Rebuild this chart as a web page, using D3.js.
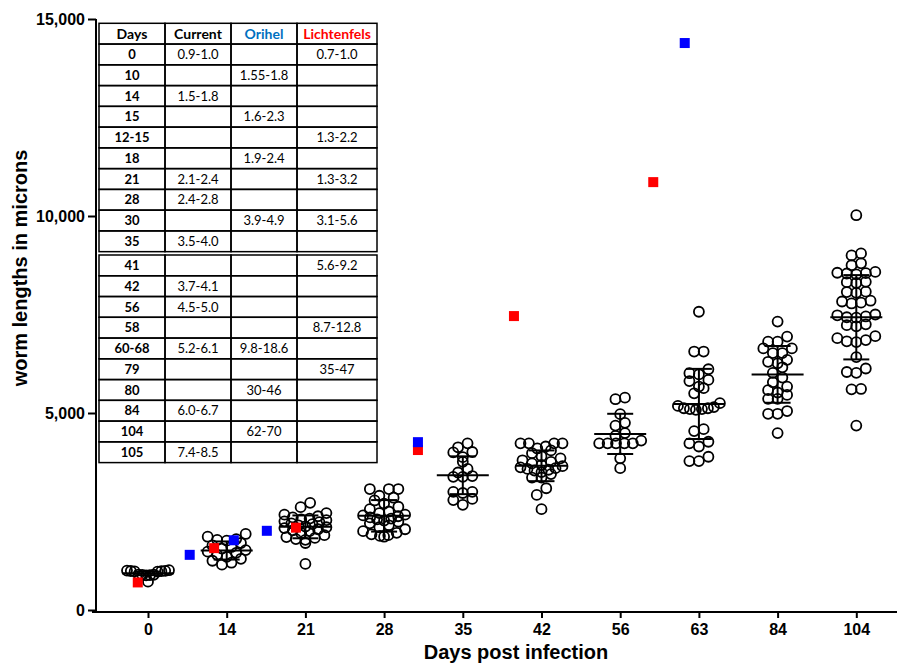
<!DOCTYPE html>
<html>
<head>
<meta charset="utf-8">
<script src="https://cdn.jsdelivr.net/npm/d3@7"></script>
<style>
  body { margin: 0; background: #fff; }
  svg { display: block; }
  .tick text { font-family: "Liberation Sans", Arial, sans-serif; font-weight: bold; font-size: 16px; fill: #000; }
  .axis-title { font-family: "Liberation Sans", Arial, sans-serif; font-weight: bold; font-size: 20px; }
  .cell-text { font-family: Lato, "Open Sans", sans-serif; font-size: 13px; }
  .cell-head { font-size: 14px; }
</style>
</head>
<body>
<div id="chart"></div>
<script>
var width = 897,
	height = 664;

// category labels on the x axis (days post infection)
var groupDays = ["0", "14", "21", "28", "35", "42", "56", "63", "84", "104"];

// individual worm lengths per day (microns)
var g0 = [1010, 1000, 995, 990, 985, 980, 975, 900, 895, 890, 885, 880, 720];
var g14 = [1930, 1860, 1800, 1780, 1760, 1700, 1640, 1600, 1560, 1520, 1480, 1450, 1400, 1350, 1300, 1250, 1200, 1150];
var g21 = [2720, 2610, 2460, 2420, 2380, 2350, 2320, 2300, 2280, 2250, 2230, 2200, 2180, 2150, 2120, 2100, 2080, 2050, 2020, 2000, 1950, 1900, 1850, 1830, 1800, 1780, 1700, 1170];
var g28 = [3070, 3070, 3070, 2900, 2850, 2780, 2700, 2620, 2560, 2500, 2460, 2420, 2400, 2380, 2350, 2320, 2300, 2270, 2240, 2200, 2150, 2100, 2050, 2000, 1960, 1920, 1900, 1880, 1860];
var g35 = [4230, 4130, 4000, 4010, 3880, 3760, 3580, 3490, 3380, 3380, 3400, 3000, 3000, 2970, 2820, 2790, 2670];
var g42 = [4230, 4230, 4230, 4230, 4150, 4100, 4050, 3980, 3900, 3850, 3800, 3760, 3720, 3680, 3650, 3620, 3600, 3580, 3560, 3540, 3500, 3450, 3360, 3360, 3090, 2920, 2560];
var g56 = [5390, 5350, 4970, 4750, 4680, 4490, 4420, 4300, 4230, 4230, 4230, 4230, 4230, 3850, 3600];
var g63 = [7570, 6560, 6560, 6110, 6010, 5980, 5840, 5810, 5670, 5630, 5500, 5250, 5180, 5150, 5120, 5120, 5100, 5100, 5080, 4590, 4540, 4270, 4230, 4150, 3890, 3780, 3780];
var g84 = [7320, 6940, 6810, 6810, 6640, 6640, 6520, 6520, 6350, 6300, 6260, 6160, 6020, 5900, 5780, 5670, 5580, 5520, 5460, 5360, 5360, 5050, 4980, 4980, 4490];
var g104 = [10020, 9050, 9000, 8800, 8750, 8580, 8560, 8550, 8540, 8520, 8330, 8320, 8300, 8080, 8070, 8050, 7850, 7830, 7800, 7780, 7500, 7480, 7450, 7430, 7420, 7250, 7230, 7200, 6950, 6900, 6850, 6820, 6800, 6420, 6130, 6040, 6020, 5610, 5600, 4680];
var groupValues = [g0, g14, g21, g28, g35, g42, g56, g63, g84, g104];

// mean and SD drawn on each group
var groupMeans = [930, 1510, 2110, 2390, 3420, 3660, 4470, 5230, 5980, 7430];
var groupSDs = [45, 230, 290, 400, 480, 390, 510, 890, 720, 1070];

// literature values (position given as fractional category index)
var orihelPos = [0.53, 1.09, 1.51, 3.43, 6.82];
var orihelVals = [1400, 1770, 2010, 4260, 14390];
var lichtPos = [-0.13, 0.84, 1.88, 3.43, 4.65, 6.42];
var lichtVals = [700, 1570, 2090, 4060, 7460, 10860];

// y axis ticks
var yTicks = [0, 5000, 10000, 15000];

// inset table
var tableHead = ["Days", "Current", "Orihel", "Lichtenfels"];
var tableDays1 = ["0", "10", "14", "15", "12-15", "18", "21", "28", "30", "35"];
var tableCurrent1 = ["0.9-1.0", "", "1.5-1.8", "", "", "", "2.1-2.4", "2.4-2.8", "", "3.5-4.0"];
var tableOrihel1 = ["", "1.55-1.8", "", "1.6-2.3", "", "1.9-2.4", "", "", "3.9-4.9", ""];
var tableLicht1 = ["0.7-1.0", "", "", "", "1.3-2.2", "", "1.3-3.2", "", "3.1-5.6", ""];
var tableDays2 = ["41", "42", "56", "58", "60-68", "79", "80", "84", "104", "105"];
var tableCurrent2 = ["", "3.7-4.1", "4.5-5.0", "", "5.2-6.1", "", "", "6.0-6.7", "", "7.4-8.5"];
var tableOrihel2 = ["", "", "", "", "9.8-18.6", "", "30-46", "", "62-70", ""];
var tableLicht2 = ["5.6-9.2", "", "", "8.7-12.8", "", "35-47", "", "", "", ""];

var svg = d3.select("#chart")
	.append("svg")
	.attr("width", width)
	.attr("height", height)
	.style("background", "#fff");

var x = d3.scaleLinear()
	.domain([0, groupDays.length - 1])
	.range([148, 856.3]);
var y = d3.scaleLinear()
	.domain([0, 15000])
	.range([610, 19]);

// axes
var xAxis = d3.axisBottom(x)
	.tickValues(d3.range(groupDays.length))
	.tickFormat(function(i){ return groupDays[i]; })
	.tickSize(6)
	.tickSizeOuter(0)
	.tickPadding(6);

var gx = svg.append("g")
	.attr("transform", "translate(0,612)")
	.call(xAxis);
gx.select(".domain").remove();
gx.append("line")
	.attr("x1", 92).attr("x2", width)
	.attr("stroke", "#000").attr("stroke-width", 2);
gx.selectAll(".tick line").attr("stroke-width", 2);

var yAxis = d3.axisLeft(y)
	.tickValues(yTicks)
	.tickFormat(d3.format(","))
	.tickSize(8)
	.tickSizeOuter(0)
	.tickPadding(3);

var gy = svg.append("g")
	.attr("transform", "translate(96,0)")
	.call(yAxis);
gy.select(".domain").remove();
gy.append("line")
	.attr("y1", 19).attr("y2", 613)
	.attr("stroke", "#000").attr("stroke-width", 2);
gy.selectAll(".tick line").attr("stroke-width", 2);

svg.append("text")
	.attr("class", "axis-title")
	.attr("transform", "translate(27,268) rotate(-90)")
	.attr("text-anchor", "middle")
	.text("worm lengths in microns");

svg.append("text")
	.attr("class", "axis-title")
	.attr("x", 516)
	.attr("y", 659)
	.attr("text-anchor", "middle")
	.text("Days post infection");

// scatter layout: greedy rows of close values; in each row the lowest
// values sit in the middle and the higher ones go outwards (smile shape)
function swarm(values, cx, rowPx, maxHalf){
	var sorted = values.slice().sort(function(a, b){ return b - a; });
	var rows = [], cur = null;
	sorted.forEach(function(v){
		var py = y(v);
		if (!cur || py - cur.top > rowPx){
			cur = {top: py, pts: []};
			rows.push(cur);
		}
		cur.pts.push(py);
	});
	var out = [];
	rows.forEach(function(r){
		var n = r.pts.length;
		var s = n > 1 ? Math.min(9.5, 2 * maxHalf / (n - 1)) : 0;
		// slots ordered centre-out
		var slots = d3.range(n).map(function(j){ return (j - (n - 1) / 2) * s; })
			.sort(function(a, b){ return Math.abs(a) - Math.abs(b) || a - b; });
		var byLow = r.pts.slice().sort(function(a, b){ return b - a; });
		byLow.forEach(function(py, j){
			out.push({x: cx + slots[j], y: py});
		});
	});
	return out;
}

var dots = svg.append("g").attr("class", "dots");
groupValues.forEach(function(vals, i){
	var pts = swarm(vals, x(i), 7, 21);
	dots.selectAll(null)
		.data(pts).enter()
		.append("circle")
		.attr("cx", function(d){ return d.x; })
		.attr("cy", function(d){ return d.y; })
		.attr("r", 5)
		.attr("fill", "none")
		.attr("stroke", "#000")
		.attr("stroke-width", 1.8);
});

// mean and SD bars
var bars = svg.append("g").attr("class", "mean-sd")
	.attr("stroke", "#000")
	.attr("stroke-width", 2);
groupMeans.forEach(function(m, i){
	var cx = x(i), s = groupSDs[i];
	bars.append("line")
		.attr("x1", cx - 26).attr("x2", cx + 26)
		.attr("y1", y(m)).attr("y2", y(m));
	bars.append("line")
		.attr("x1", cx).attr("x2", cx)
		.attr("y1", y(m + s)).attr("y2", y(m - s));
	bars.append("line")
		.attr("x1", cx - 13).attr("x2", cx + 13)
		.attr("y1", y(m + s)).attr("y2", y(m + s));
	bars.append("line")
		.attr("x1", cx - 13).attr("x2", cx + 13)
		.attr("y1", y(m - s)).attr("y2", y(m - s));
});

// literature squares
var sq = 10;
svg.append("g").selectAll("rect")
	.data(lichtPos).enter()
	.append("rect")
	.attr("x", function(d){ return x(d) - sq / 2; })
	.attr("y", function(d, i){ return y(lichtVals[i]) - sq / 2; })
	.attr("width", sq).attr("height", sq)
	.attr("fill", "#ff0000");
svg.append("g").selectAll("rect")
	.data(orihelPos).enter()
	.append("rect")
	.attr("x", function(d){ return x(d) - sq / 2; })
	.attr("y", function(d, i){ return y(orihelVals[i]) - sq / 2; })
	.attr("width", sq).attr("height", sq)
	.attr("fill", "#0000ff");

// inset table
var colX = [99, 165, 231, 297, 377],
	rowH = 20.76;
var headColors = ["#000", "#000", "#0070c0", "#ff0000"];

function drawTable(top, rows, withHead){
	var g = svg.append("g").attr("class", "table");
	var all = withHead ? [tableHead].concat(rows) : rows;
	g.append("rect")
		.attr("x", colX[0] - 1).attr("y", top - 1)
		.attr("width", colX[4] - colX[0] + 2)
		.attr("height", all.length * rowH + 2)
		.attr("fill", "#fff");
	all.forEach(function(r, ri){
		var ty = top + ri * rowH;
		var head = withHead && ri === 0;
		r.forEach(function(txt, ci){
			g.append("rect")
				.attr("x", colX[ci]).attr("y", ty)
				.attr("width", colX[ci + 1] - colX[ci])
				.attr("height", rowH)
				.attr("fill", "none")
				.attr("stroke", "#000")
				.attr("stroke-width", 1.5);
			g.append("text")
				.attr("class", head ? "cell-text cell-head" : "cell-text")
				.attr("x", (colX[ci] + colX[ci + 1]) / 2)
				.attr("y", ty + rowH / 2)
				.attr("dy", "0.36em")
				.attr("text-anchor", "middle")
				.attr("font-weight", (ci === 0 || head) ? "bold" : "normal")
				.attr("fill", head ? headColors[ci] : "#000")
				.text(txt);
		});
	});
}

function rowsOf(days, cur, ori, lic){
	return days.map(function(d, i){ return [d, cur[i], ori[i], lic[i]]; });
}

drawTable(23.3, rowsOf(tableDays1, tableCurrent1, tableOrihel1, tableLicht1), true);
drawTable(255, rowsOf(tableDays2, tableCurrent2, tableOrihel2, tableLicht2), false);
</script>
</body>
</html>
